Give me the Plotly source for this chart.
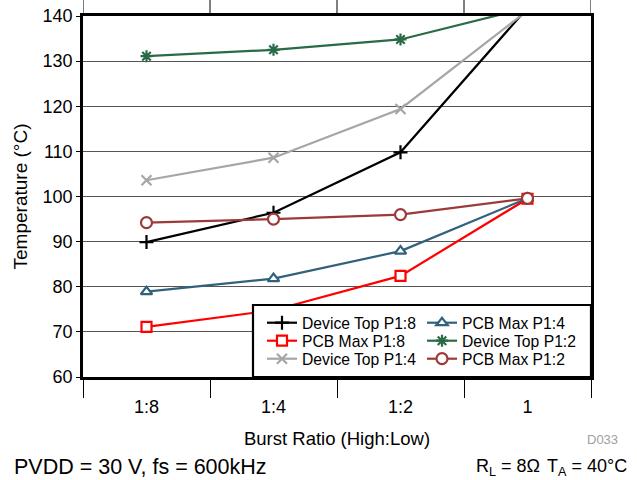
import plotly.graph_objects as go

categories = ["1:8", "1:4", "1:2", "1"]
device_top_p18 = [89.9, 96.4, 109.8, 141.8]
pcb_max_p18 = [71.1, 74.8, 82.4, 99.5]
device_top_p14 = [103.6, 108.6, 119.4, 141.2]
pcb_max_p14 = [78.9, 81.8, 87.9, 99.6]
device_top_p12 = [131.1, 132.5, 134.8, 141.8]
pcb_max_p12 = [94.2, 95.0, 96.0, 99.6]

FONT = "Liberation Sans, Arial, sans-serif"

# (name, values, colour, symbol, fill, size, legend column px, legend row px)
series = [
    ("Device Top P1:8", device_top_p18, "#000000", "cross-thin", "#000000", 10, 262, 323),
    ("PCB Max P1:8", pcb_max_p18, "#FF0000", "square", "#FFFFFF", 10, 262, 341),
    ("Device Top P1:4", device_top_p14, "#A6A6A6", "x-thin", "#A6A6A6", 10, 262, 359),
    ("PCB Max P1:4", pcb_max_p14, "#31627B", "triangle-up", "#FFFFFF", 10, 422, 323),
    ("Device Top P1:2", device_top_p12, "#2A6B47", "asterisk", "#2A6B47", 10, 422, 341),
    ("PCB Max P1:2", pcb_max_p12, "#9C3A3A", "circle", "#FFFFFF", 11, 422, 359),
]

fig = go.Figure()
legend_layouts = {}
for i, (name, vals, col, sym, fill, size, lx, ly) in enumerate(series):
    key = "legend" if i == 0 else f"legend{i + 1}"
    fig.add_trace(go.Scatter(
        x=categories, y=vals, name=name, mode="lines+markers",
        line=dict(color=col, width=2.2),
        marker=dict(symbol=sym, size=size, color=fill, line=dict(color=col, width=2.2)),
        legend=key, showlegend=True,
    ))
    legend_layouts[key] = dict(x=(lx - 83) / 508, y=(377 - ly) / 361,
                               xanchor="left", yanchor="middle",
                               bgcolor="rgba(0,0,0,0)", borderwidth=0,
                               font=dict(size=15.7), itemwidth=30)

# legend frame
fig.add_shape(type="rect", xref="paper", yref="paper",
              x0=(253 - 83) / 508, x1=1.0, y0=0.0, y1=(377 - 305) / 361,
              fillcolor="white", line=dict(color="black", width=2.2), layer="above")

# vertical boundary lines above plot area
for i in range(5):
    fig.add_shape(type="line", xref="x", yref="paper",
                  x0=i - 0.5, x1=i - 0.5, y0=1.0, y1=1.0 + 16 / 361,
                  line=dict(color="black", width=1))

fig.update_layout(
    width=637, height=480, showlegend=True,
    margin=dict(l=83, r=46, t=16, b=103, autoexpand=False),
    paper_bgcolor="white", plot_bgcolor="white",
    font=dict(family=FONT, color="black", size=15),
    xaxis=dict(type="category", categoryorder="array", categoryarray=categories,
               range=[-0.5, 3.5], tickson="boundaries", ticks="outside", ticklen=18,
               tickcolor="black", tickwidth=1, showgrid=False, showline=True, mirror=True,
               linecolor="black", linewidth=2.5, tickfont=dict(size=18),
               ticklabelstandoff=12,
               title=dict(text="Burst Ratio (High:Low)", font=dict(size=18.5), standoff=16),
               zeroline=False),
    yaxis=dict(range=[60, 140], dtick=10, ticks="outside", ticklen=4, tickcolor="black",
               showgrid=True, gridcolor="#555555", gridwidth=1, showline=True, mirror=True,
               linecolor="black", linewidth=2.5, tickfont=dict(size=18),
               title=dict(text="Temperature (°C)", font=dict(size=19), standoff=10),
               zeroline=False),
    **legend_layouts,
)

fig.add_annotation(text="D033", xref="paper", yref="paper", x=(620 - 83) / 508, y=(377 - 440) / 361,
                   xanchor="right", yanchor="middle", showarrow=False,
                   font=dict(size=13, color="#A0A0A0"))
fig.add_annotation(text="PVDD = 30 V, fs = 600kHz", xref="paper", yref="paper",
                   x=(12 - 83) / 508, y=(377 - 467) / 361, xanchor="left", yanchor="middle",
                   showarrow=False, font=dict(size=21.5))
fig.add_annotation(text="R<sub>L</sub> = 8Ω", xref="paper", yref="paper",
                   x=(474 - 83) / 508, y=(377 - 467) / 361, xanchor="left", yanchor="middle",
                   showarrow=False, font=dict(size=18))
fig.add_annotation(text="T<sub>A</sub> = 40°C", xref="paper", yref="paper",
                   x=(629 - 83) / 508, y=(377 - 467) / 361, xanchor="right", yanchor="middle",
                   showarrow=False, font=dict(size=18))

fig.write_html("out.html", config={"displayModeBar": False},
               post_script="document.body.style.margin='0px';")
